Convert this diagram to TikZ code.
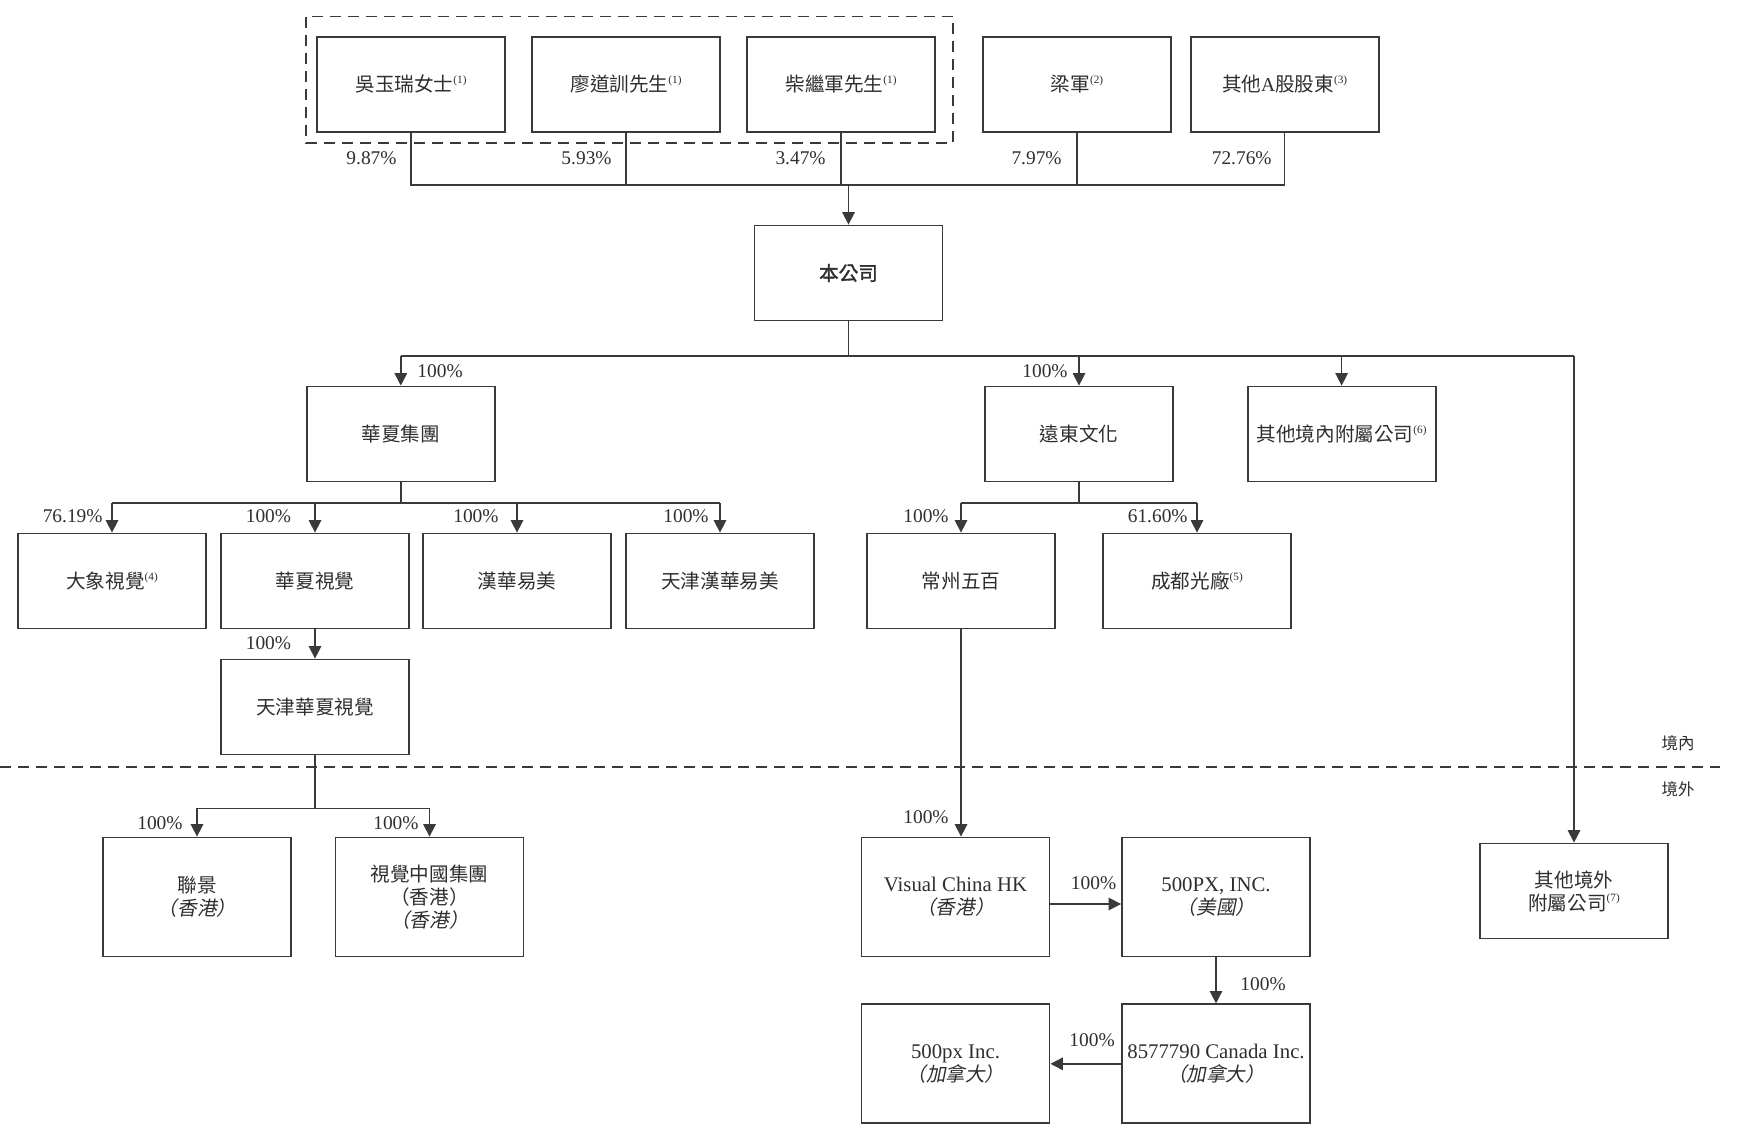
\documentclass[tikz,border=0pt]{standalone}
\usepackage{fontspec}
\setmainfont{Liberation Serif}
\newfontfamily\cjk{Noto Sans CJK TC}
\newfontfamily\cjkit[FakeSlant=0.2]{Noto Sans CJK TC}
\newfontfamily\cjkbf[FakeBold=1.6]{Noto Sans CJK TC}
\usetikzlibrary{arrows.meta}
\definecolor{lc}{HTML}{3A3A3A}
\definecolor{tc}{HTML}{2E2E2E}
\newcommand{\fnm}[1]{\raisebox{0.42em}{\fontsize{5.6pt}{5.6pt}\selectfont(#1)}}
\newcommand{\lat}[1]{{\fontsize{10.4pt}{11.5pt}\selectfont #1}}
\tikzset{
  box/.style={draw=lc, line width=0.9pt, minimum width=94pt, minimum height=47.5pt,
    inner sep=0pt, align=center, text=tc, font=\fontsize{9.8pt}{11.5pt}\selectfont},
  tallbox/.style={box, minimum height=59.5pt},
  pct/.style={inner sep=0pt, text=tc, font=\fontsize{9.7pt}{11pt}\selectfont},
  zone/.style={inner sep=0pt, text=tc, font=\fontsize{8.2pt}{10pt}\selectfont\cjk},
  conn/.style={draw=lc, line width=0.75pt},
  arr/.style={conn, -{Triangle[width=6.2pt,length=6.2pt]}},
  dashline/.style={draw=lc, line width=0.75pt, dash pattern=on 5.5pt off 3.5pt},
}
\begin{document}
\begin{tikzpicture}[x=0.5pt,y=-0.5pt]
\useasboundingbox (0,0) rectangle (1738,1146);

% dashed group around three founders
\draw[dashline] (306,16.6) rectangle (953,143);

% top row
\node[box] (a1) at (411,84.5) {{\cjk 吳玉瑞女士}\fnm{1}};
\node[box] (a2) at (626,84.5) {{\cjk 廖道訓先生}\fnm{1}};
\node[box] (a3) at (841,84.5) {{\cjk 柴繼軍先生}\fnm{1}};
\node[box] (a4) at (1077,84.5) {{\cjk 梁軍}\fnm{2}};
\node[box] (a5) at (1284.6,84.5) {{\cjk 其他}A{\cjk 股股東}\fnm{3}};

% company
\node[box] (co) at (848.5,273) {{\cjkbf 本公司}};

% second row
\node[box] (hx) at (400.8,434) {{\cjk 華夏集團}};
\node[box] (yd) at (1079,434) {{\cjk 遠東文化}};
\node[box] (qj) at (1341.6,434) {{\cjk 其他境內附屬公司}\fnm{6}};

% third row
\node[box] (dx) at (112,581) {{\cjk 大象視覺}\fnm{4}};
\node[box] (hs) at (315,581) {{\cjk 華夏視覺}};
\node[box] (hh) at (517,581) {{\cjk 漢華易美}};
\node[box] (tj) at (720,581) {{\cjk 天津漢華易美}};
\node[box] (cz) at (961,581) {{\cjk 常州五百}};
\node[box] (cd) at (1197,581) {{\cjk 成都光廠}\fnm{5}};

\node[box] (tjhs) at (315,707) {{\cjk 天津華夏視覺}};

% overseas
\node[tallbox] (lj) at (197,897) {{\cjk 聯景}\\{\cjkit （香港）}};
\node[tallbox] (sj) at (429.5,897) {{\cjk 視覺中國集團}\\{\cjk （香港）}\\{\cjkit （香港）}};
\node[tallbox] (vc) at (955.5,897) {\lat{Visual China HK}\\{\cjkit （香港）}};
\node[tallbox] (px) at (1216,897) {\lat{500PX, INC.}\\{\cjkit （美國）}};
\node[tallbox] (c8) at (1216,1063.8) {\lat{8577790 Canada Inc.}\\{\cjkit （加拿大）}};
\node[tallbox] (p5) at (955.5,1063.8) {\lat{500px Inc.}\\{\cjkit （加拿大）}};
\node[box] (qw) at (1574,891) {{\cjk 其他境外}\\{\cjk 附屬公司}\fnm{7}};

% domestic / overseas separator
\coordinate (dl) at (0,767);
\coordinate (dr) at (1720,767);
\draw[dashline] (dl) -- (dr);
\node[zone] (zn) at (1678,743) {境內};
\node[zone] (zw) at (1678,789) {境外};

% shareholders to company
\coordinate (tb) at (848.5,185);
\draw[conn] (a1.south) -- (a1.south |- tb) -- (a5.south |- tb) -- (a5.south);
\draw[conn] (a2.south) -- (a2.south |- tb);
\draw[conn] (a3.south) -- (a3.south |- tb);
\draw[conn] (a4.south) -- (a4.south |- tb);
\draw[arr] (tb) -- (co.north);
\node[pct, anchor=east] (p1) at (397,158.5) {9.87\%};
\node[pct, anchor=east] (p2) at (612,158.5) {5.93\%};
\node[pct, anchor=east] (p3) at (826,158.5) {3.47\%};
\node[pct, anchor=east] (p4) at (1062,158.5) {7.97\%};
\node[pct, anchor=east] (p5l) at (1272,158.5) {72.76\%};

% company to subsidiaries
\coordinate (mb) at (848.5,356);
\draw[conn] (co.south) -- (mb);
\draw[conn] (hx.north |- mb) -- (qw.north |- mb);
\draw[arr] (hx.north |- mb) -- (hx.north);
\draw[arr] (yd.north |- mb) -- (yd.north);
\draw[arr] (qj.north |- mb) -- (qj.north);
\draw[arr] (qw.north |- mb) -- (qw.north);
\node[pct, anchor=west] (l1) at (417,371) {100\%};
\node[pct, anchor=east] (l2) at (1068,371) {100\%};

% Huaxia group
\coordinate (hb) at (400.8,503);
\draw[conn] (hx.south) -- (hb);
\draw[conn] (dx.north |- hb) -- (tj.north |- hb);
\draw[arr] (dx.north |- hb) -- (dx.north);
\draw[arr] (hs.north |- hb) -- (hs.north);
\draw[arr] (hh.north |- hb) -- (hh.north);
\draw[arr] (tj.north |- hb) -- (tj.north);
\node[pct, anchor=east] (l3) at (103,516.5) {76.19\%};
\node[pct, anchor=east] (l4) at (291.5,516.5) {100\%};
\node[pct, anchor=east] (l5) at (499,516.5) {100\%};
\node[pct, anchor=east] (l6) at (709,516.5) {100\%};

% Far East culture
\coordinate (yb) at (1079,503);
\draw[conn] (yd.south) -- (yb);
\draw[conn] (cz.north |- yb) -- (cd.north |- yb);
\draw[arr] (cz.north |- yb) -- (cz.north);
\draw[arr] (cd.north |- yb) -- (cd.north);
\node[pct, anchor=east] (l7) at (949,516.5) {100\%};
\node[pct, anchor=east] (l8) at (1188,516.5) {61.60\%};

% Huaxia vision to Tianjin
\draw[arr] (hs.south) -- (tjhs.north);
\node[pct, anchor=east] (l9) at (291.5,643) {100\%};

% Tianjin to HK
\coordinate (bb) at (315,808.3);
\draw[conn] (tjhs.south) -- (bb);
\draw[conn] (lj.north |- bb) -- (sj.north |- bb);
\draw[arr] (lj.north |- bb) -- (lj.north);
\draw[arr] (sj.north |- bb) -- (sj.north);
\node[pct, anchor=east] (l10) at (183,823) {100\%};
\node[pct, anchor=east] (l11) at (419,823) {100\%};

% Changzhou to Visual China HK chain
\draw[arr] (cz.south) -- (cz.south |- vc.north);
\node[pct, anchor=east] (l12) at (949,817) {100\%};
\draw[arr] ([yshift=-3.5pt]vc.east) -- ([yshift=-3.5pt]px.west);
\node[pct, anchor=west] (l13) at (1070.5,883) {100\%};
\draw[arr] (px.south) -- (c8.north);
\node[pct, anchor=west] (l14) at (1240,984) {100\%};
\draw[arr] (c8.west) -- (p5.east);
\node[pct, anchor=west] (l15) at (1069,1040) {100\%};
\end{tikzpicture}
\end{document}
